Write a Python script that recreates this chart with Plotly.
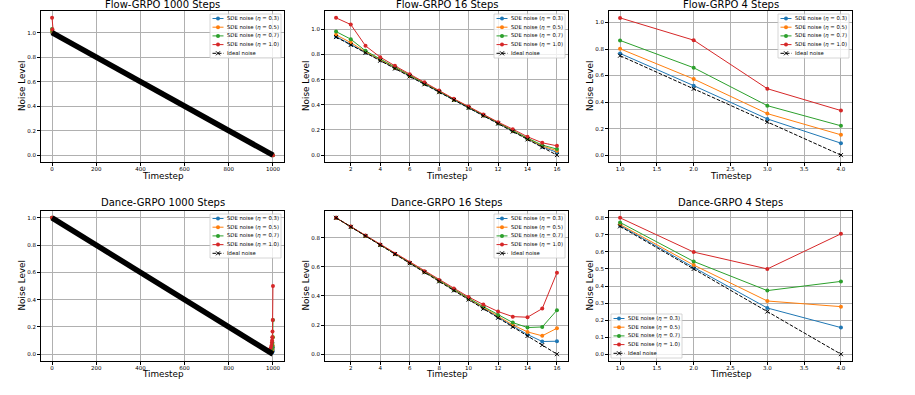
import plotly.graph_objects as go
from plotly.subplots import make_subplots

W, H = 915, 395
COLORS = ["#1f77b4", "#ff7f0e", "#2ca02c", "#d62728"]
ETAS = ["0.3", "0.5", "0.7", "1.0"]
FONT = "DejaVu Sans"

# ---------------- data ----------------
# Flow-GRPO 1000 steps
flow1000_t = [0, 2, 6, 1000]
flow1000_blue = [1.005, 0.999, 0.994, 0.0]
flow1000_orange = [1.012, 1.0, 0.994, 0.0]
flow1000_green = [1.03, 1.006, 0.994, 0.0]
flow1000_red = [1.12, 1.025, 0.995, 0.0]
flow1000_ideal_t = [0, 1000]
flow1000_ideal = [1.0, 0.0]

# Flow-GRPO 16 steps
steps16 = list(range(1, 17))
flow16_blue = [0.942, 0.880, 0.815, 0.753, 0.690, 0.627, 0.565, 0.502, 0.439, 0.376, 0.314, 0.251, 0.189, 0.127, 0.066, 0.022]
flow16_orange = [0.955, 0.894, 0.820, 0.757, 0.692, 0.629, 0.567, 0.504, 0.440, 0.378, 0.315, 0.253, 0.191, 0.131, 0.072, 0.035]
flow16_green = [0.981, 0.921, 0.828, 0.765, 0.698, 0.634, 0.571, 0.507, 0.442, 0.380, 0.318, 0.256, 0.196, 0.135, 0.080, 0.048]
flow16_red = [1.090, 1.037, 0.868, 0.778, 0.709, 0.643, 0.579, 0.513, 0.447, 0.386, 0.323, 0.262, 0.206, 0.146, 0.098, 0.074]
ideal16 = [0.9375, 0.875, 0.8125, 0.75, 0.6875, 0.625, 0.5625, 0.5, 0.4375, 0.375, 0.3125, 0.25, 0.1875, 0.125, 0.0625, 0.0]

# Flow-GRPO 4 steps
steps4 = [1, 2, 3, 4]
flow4_blue = [0.767, 0.524, 0.273, 0.090]
flow4_orange = [0.802, 0.574, 0.313, 0.153]
flow4_green = [0.865, 0.659, 0.373, 0.221]
flow4_red = [1.035, 0.867, 0.501, 0.336]
ideal4 = [0.75, 0.5, 0.25, 0.0]

# Dance-GRPO 1000 steps
dance1000_t = [0, 960, 980, 990, 993, 995, 996, 997, 998, 999, 1000]
dance1000_blue = [1.0, 0.04, 0.02, 0.012, 0.011, 0.012, 0.014, 0.017, 0.022, 0.03, 0.05]
dance1000_orange = [1.0, 0.04, 0.021, 0.015, 0.017, 0.021, 0.025, 0.031, 0.042, 0.063, 0.125]
dance1000_green = [1.0, 0.041, 0.024, 0.023, 0.031, 0.041, 0.05, 0.062, 0.083, 0.125, 0.25]
dance1000_red = [1.0, 0.042, 0.03, 0.045, 0.062, 0.083, 0.1, 0.125, 0.167, 0.25, 0.5]
dance1000_ideal_t = [0, 1000]
dance1000_ideal = [1.0, 0.0]

# Dance-GRPO 16 steps
dance16_blue = [0.9375, 0.875, 0.8125, 0.75, 0.688, 0.625, 0.563, 0.501, 0.439, 0.377, 0.316, 0.255, 0.193, 0.135, 0.087, 0.089]
dance16_orange = [0.9375, 0.875, 0.813, 0.750, 0.688, 0.626, 0.564, 0.503, 0.442, 0.381, 0.321, 0.262, 0.201, 0.153, 0.126, 0.178]
dance16_green = [0.9375, 0.876, 0.814, 0.751, 0.689, 0.627, 0.566, 0.505, 0.445, 0.385, 0.327, 0.270, 0.217, 0.183, 0.187, 0.302]
dance16_red = [0.9375, 0.877, 0.815, 0.753, 0.690, 0.630, 0.570, 0.510, 0.452, 0.393, 0.341, 0.293, 0.258, 0.254, 0.313, 0.560]

# Dance-GRPO 4 steps
dance4_blue = [0.755, 0.509, 0.271, 0.156]
dance4_orange = [0.761, 0.523, 0.312, 0.279]
dance4_green = [0.773, 0.544, 0.373, 0.427]
dance4_red = [0.800, 0.599, 0.500, 0.706]

TITLES = ["Flow-GRPO 1000 Steps", "Flow-GRPO 16 Steps", "Flow-GRPO 4 Steps",
          "Dance-GRPO 1000 Steps", "Dance-GRPO 16 Steps", "Dance-GRPO 4 Steps"]

panels = [
    dict(x=flow1000_t, sde=[flow1000_blue, flow1000_orange, flow1000_green, flow1000_red],
         ix=flow1000_ideal_t, ideal=flow1000_ideal, big=True,
         xr=[-50, 1050], xt=[0, 200, 400, 600, 800, 1000], xf="d",
         yr=[-0.056, 1.176], yt=[0, 0.2, 0.4, 0.6, 0.8, 1.0], leg="ur"),
    dict(x=steps16, sde=[flow16_blue, flow16_orange, flow16_green, flow16_red],
         ix=steps16, ideal=ideal16, big=False,
         xr=[0.25, 16.75], xt=[2, 4, 6, 8, 10, 12, 14, 16], xf="d",
         yr=[-0.0545, 1.1445], yt=[0, 0.2, 0.4, 0.6, 0.8, 1.0], leg="ur"),
    dict(x=steps4, sde=[flow4_blue, flow4_orange, flow4_green, flow4_red],
         ix=steps4, ideal=ideal4, big=False,
         xr=[0.85, 4.15], xt=[1.0, 1.5, 2.0, 2.5, 3.0, 3.5, 4.0], xf=".1f",
         yr=[-0.052, 1.087], yt=[0, 0.2, 0.4, 0.6, 0.8, 1.0], leg="ur"),
    dict(x=dance1000_t, sde=[dance1000_blue, dance1000_orange, dance1000_green, dance1000_red],
         ix=dance1000_ideal_t, ideal=dance1000_ideal, big=True,
         xr=[-50, 1050], xt=[0, 200, 400, 600, 800, 1000], xf="d",
         yr=[-0.05, 1.05], yt=[0, 0.2, 0.4, 0.6, 0.8, 1.0], leg="ur"),
    dict(x=steps16, sde=[dance16_blue, dance16_orange, dance16_green, dance16_red],
         ix=steps16, ideal=ideal16, big=False,
         xr=[0.25, 16.75], xt=[2, 4, 6, 8, 10, 12, 14, 16], xf="d",
         yr=[-0.047, 0.984], yt=[0, 0.2, 0.4, 0.6, 0.8], leg="ur"),
    dict(x=steps4, sde=[dance4_blue, dance4_orange, dance4_green, dance4_red],
         ix=steps4, ideal=ideal4, big=False,
         xr=[0.85, 4.15], xt=[1.0, 1.5, 2.0, 2.5, 3.0, 3.5, 4.0], xf=".1f",
         yr=[-0.04, 0.84], yt=[0, 0.1, 0.2, 0.3, 0.4, 0.5, 0.6, 0.7, 0.8], leg="ll"),
]

# ---------------- layout geometry (pixels) ----------------
COLS = [(41, 284), (325, 568), (609, 852)]
ROWS = [(11, 162), (211, 361)]


def px(x):
    return x / W


def py(y):
    return 1 - y / H


fig = make_subplots(rows=2, cols=3)

for k, p in enumerate(panels):
    r, c = k // 3 + 1, k % 3 + 1
    for s, col in enumerate(COLORS):
        fig.add_trace(go.Scatter(
            x=p["x"], y=p["sde"][s], mode="lines+markers",
            line=dict(color=col, width=1),
            marker=dict(color=col, size=4, symbol="circle"),
            showlegend=False, hoverinfo="skip"), row=r, col=c)
    if p["big"]:
        fig.add_trace(go.Scatter(
            x=p["ix"], y=p["ideal"], mode="lines",
            line=dict(color="black", width=5.5),
            showlegend=False, hoverinfo="skip"), row=r, col=c)
    else:
        fig.add_trace(go.Scatter(
            x=p["ix"], y=p["ideal"], mode="lines+markers",
            line=dict(color="black", width=1, dash="3.7px,1.6px"),
            marker=dict(symbol="x-thin", size=4, line=dict(color="black", width=1)),
            showlegend=False, hoverinfo="skip"), row=r, col=c)

    (l, rr), (t, b) = COLS[c - 1], ROWS[r - 1]
    axis_common = dict(showgrid=True, gridcolor="#b0b0b0", gridwidth=0.8,
                       showline=True, mirror=True, linecolor="black", linewidth=1,
                       ticks="outside", ticklen=3, tickwidth=0.8, tickcolor="black",
                       tickfont=dict(size=5.5, family=FONT, color="black"),
                       zeroline=False)
    fig.update_xaxes(domain=[px(l), px(rr)], range=p["xr"], tickvals=p["xt"],
                     tickformat=p["xf"], ticklabelstandoff=-2, row=r, col=c, **axis_common)
    fig.update_yaxes(domain=[py(b), py(t)], range=p["yr"], tickvals=p["yt"],
                     tickformat=".1f", row=r, col=c, **axis_common)

    # title
    ty = 4.5 if r == 1 else 202.5
    fig.add_annotation(text=TITLES[k], x=px((l + rr) / 2), y=py(ty), xref="paper", yref="paper",
                       xanchor="center", yanchor="middle", showarrow=False,
                       font=dict(size=10, family=FONT, color="black"))
    # axis titles
    xty = 176.5 if r == 1 else 374
    fig.add_annotation(text="Timestep", x=px((l + rr) / 2), y=py(xty), xref="paper", yref="paper",
                       xanchor="center", yanchor="middle", showarrow=False,
                       font=dict(size=8.8, family=FONT, color="black"))
    fig.add_annotation(text="Noise Level", x=px(l - 19.5), y=py((t + b) / 2), xref="paper", yref="paper",
                       xanchor="center", yanchor="middle", showarrow=False, textangle=-90,
                       font=dict(size=8.8, family=FONT, color="black"))

    # legend (drawn manually for matplotlib-like compactness)
    bw, bh = 71, 44
    if p["leg"] == "ur":
        bx0, by0 = rr - 3 - bw, t + 3
    else:
        bx0, by0 = l + 2, b - 3 - bh
    fig.add_shape(type="rect", xref="paper", yref="paper",
                  x0=px(bx0), x1=px(bx0 + bw), y0=py(by0 + bh), y1=py(by0),
                  fillcolor="rgba(255,255,255,0.8)", line=dict(color="#cccccc", width=0.8),
                  layer="above")
    labels = [f"SDE noise (<i>η</i> = {e})" for e in ETAS] + ["Ideal noise"]
    lcolors = COLORS + ["black"]
    for i in range(5):
        yy = by0 + 4.5 + i * 8.7
        col = lcolors[i]
        fig.add_shape(type="line", xref="paper", yref="paper",
                      x0=px(bx0 + 2.5), x1=px(bx0 + 13.5), y0=py(yy), y1=py(yy),
                      line=dict(color=col, width=1, dash="3.7px,1.6px" if i == 4 else "solid"),
                      layer="above")
        cx = bx0 + 8
        if i < 4:
            fig.add_shape(type="circle", xref="paper", yref="paper",
                          xsizemode="pixel", ysizemode="pixel",
                          xanchor=px(cx), yanchor=py(yy), x0=-2, x1=2, y0=-2, y1=2,
                          fillcolor=col, line=dict(width=0), layer="above")
        else:
            fig.add_shape(type="path", xref="paper", yref="paper",
                          xsizemode="pixel", ysizemode="pixel",
                          xanchor=px(cx), yanchor=py(yy),
                          path="M-2,-2L2,2M-2,2L2,-2",
                          line=dict(color="black", width=1), layer="above")
        fig.add_annotation(text=labels[i], x=px(bx0 + 15), y=py(yy), xref="paper", yref="paper",
                           xanchor="left", yanchor="middle", showarrow=False,
                           font=dict(size=5.3, family=FONT, color="black"))

fig.update_layout(width=W, height=H, margin=dict(l=0, r=0, t=0, b=0),
                  paper_bgcolor="white", plot_bgcolor="white", showlegend=False,
                  font=dict(family=FONT))

fig.write_html("out.html")
